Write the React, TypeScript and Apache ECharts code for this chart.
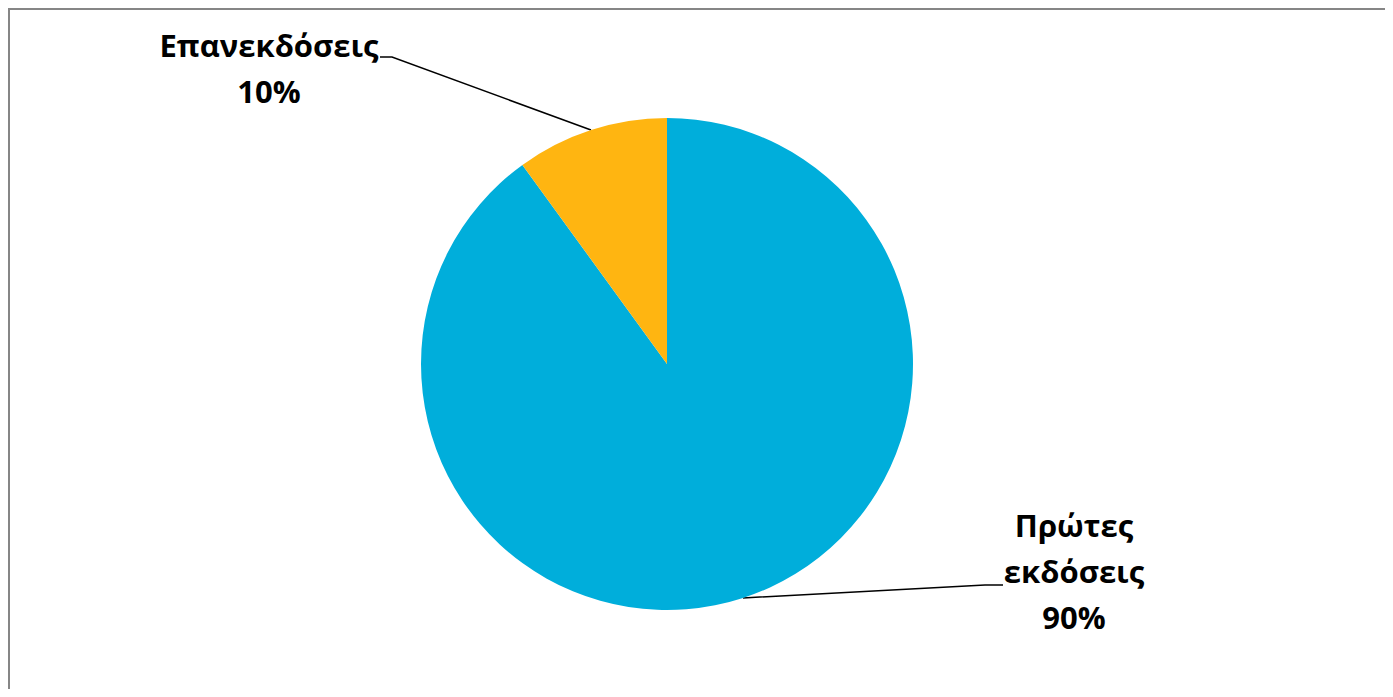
import React, { useEffect, useRef } from "react";
import * as echarts from "echarts";

const categories = ["Πρώτες εκδόσεις", "Επανεκδόσεις"];
const values = [90, 10];
const colors = ["#00AEDB", "#FFB511"];

export default function App() {
  const ref = useRef<HTMLDivElement>(null);
  useEffect(() => {
    if (!ref.current) return;
    const chart = echarts.init(ref.current, undefined, { renderer: "svg" });
    // label anchor (canvas coords) and elbow points, per slice
    const labelSpots = [
      { x: 1066, y: 563, elbow: [977, 577], end: [995, 577] },
      { x: 261, y: 60, elbow: [384, 49], end: [372, 49] },
    ];
    chart.setOption({
      animation: false,
      backgroundColor: "#ffffff",
      graphic: [
        {
          type: "rect",
          shape: { x: 1, y: 1, width: 2000, height: 2000 },
          style: { fill: "none", stroke: "#868686", lineWidth: 2 },
          silent: true,
        },
      ],
      series: [
        {
          type: "pie",
          center: [659, 356],
          radius: [0, 246],
          startAngle: 90,
          clockwise: true,
          data: categories.map((c, i) => ({
            name: c,
            value: values[i],
            itemStyle: { color: colors[i] },
          })),
          label: {
            show: true,
            position: "outside",
            formatter: (p: any) => p.name.replace(" ", "\n") + "\n" + Math.round(p.percent) + "%",
            fontFamily: "Open Sans",
            fontWeight: "bold",
            fontSize: 31,
            lineHeight: 46,
            color: "#000000",
            align: "center",
          },
          labelLine: {
            show: true,
            lineStyle: { color: "#000000", width: 1.5 },
          },
          labelLayout: (params: any) => {
            const s = labelSpots[params.dataIndex];
            const start = params.labelLinePoints ? params.labelLinePoints[0] : [0, 0];
            return {
              x: s.x,
              y: s.y,
              align: "center",
              verticalAlign: "middle",
              labelLinePoints: [start, s.elbow, s.end],
            };
          },
        },
      ],
    });
    return () => chart.dispose();
  }, []);
  return <div ref={ref} style={{ width: 1377, height: 681 }} />;
}
